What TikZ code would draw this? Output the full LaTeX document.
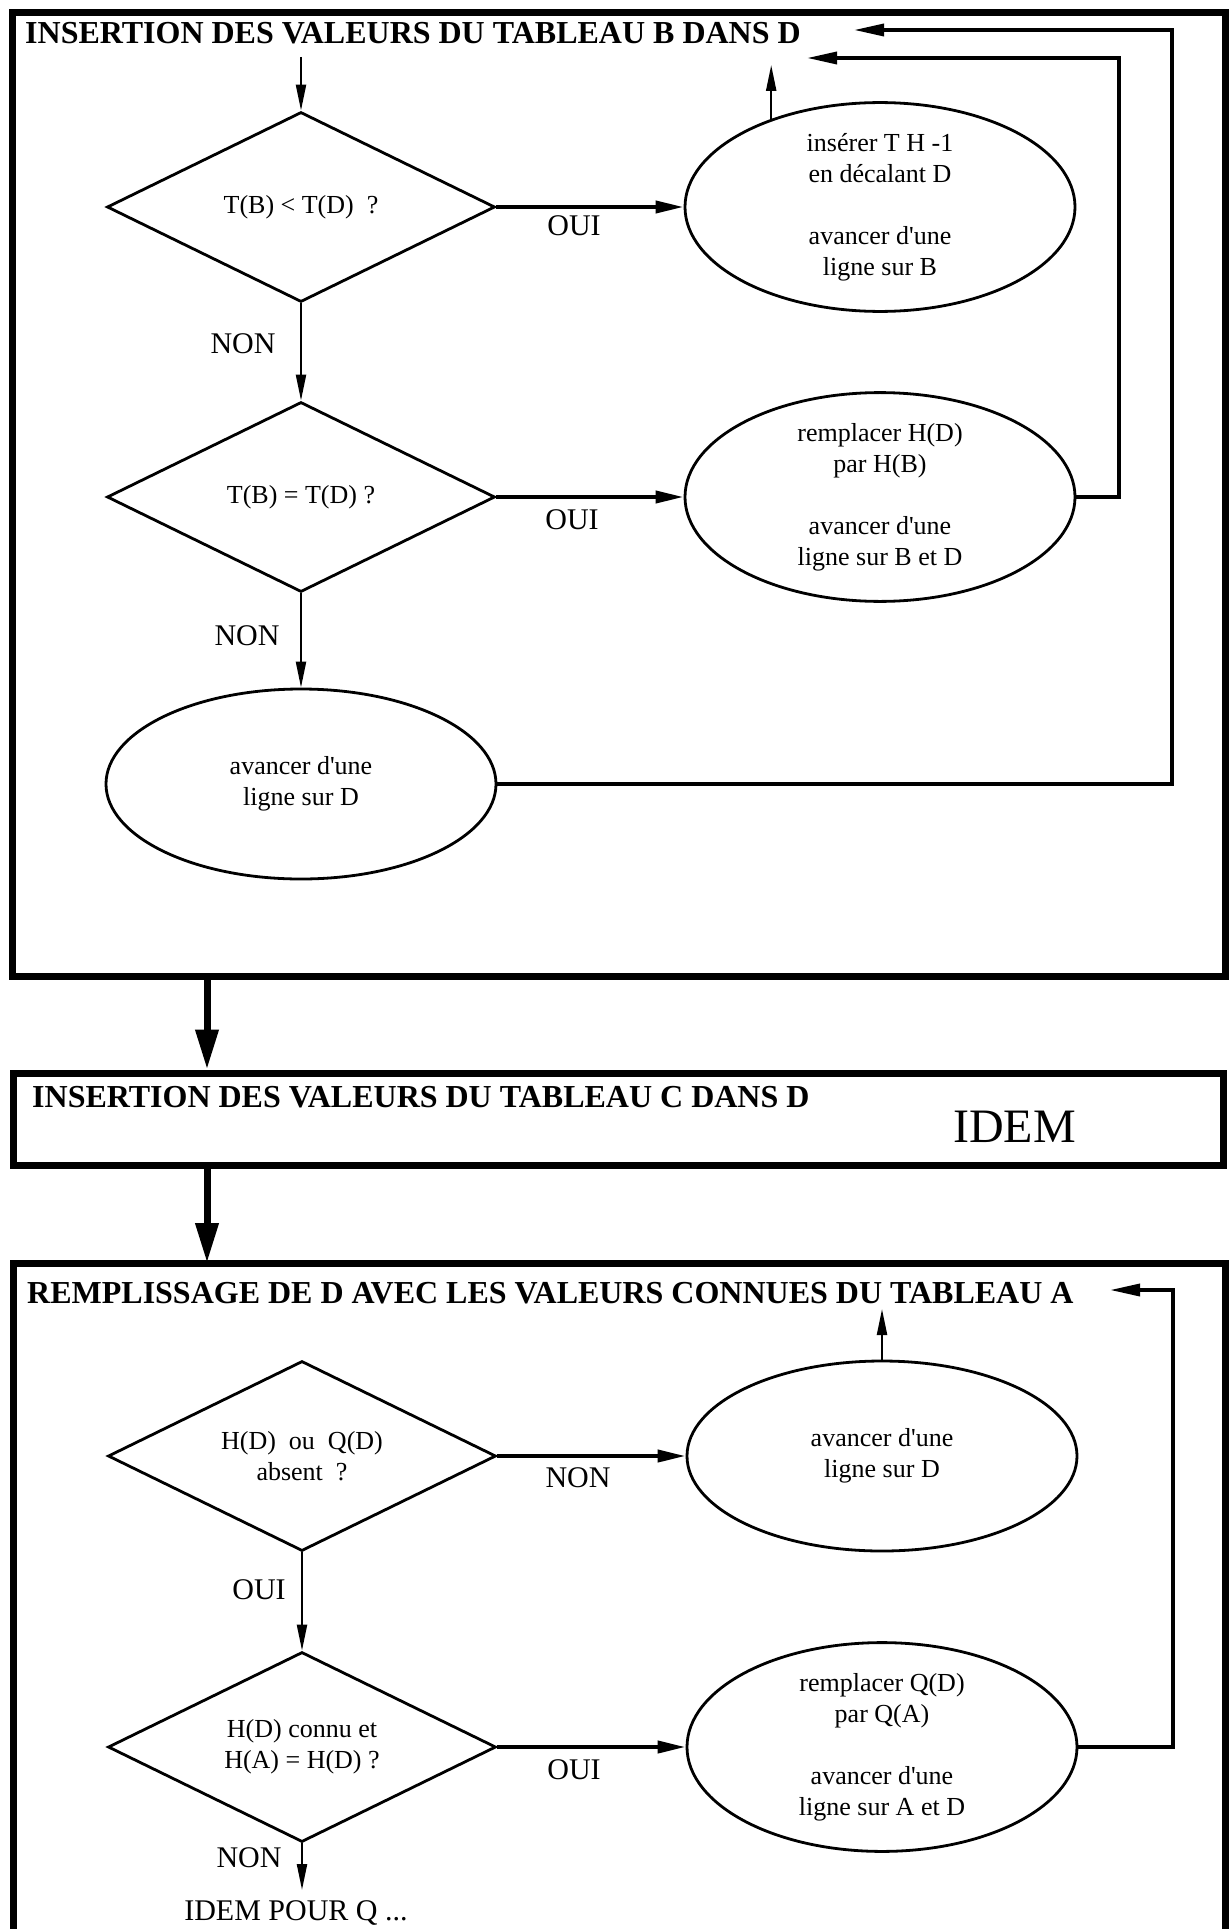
\documentclass[tikz,border=0pt]{standalone}
\usepackage{fontspec}
\setmainfont{Liberation Serif}[Ligatures=TeXOff]
\usetikzlibrary{shapes.geometric,arrows.meta}
\begin{document}
\begin{tikzpicture}[x=1pt,y=-1pt,
  boxn/.style={draw,rectangle,line width=7pt,inner sep=0pt},
  boxline/.style={line width=7pt},
  dia/.style={draw,shape=diamond,aspect=2,minimum width=388pt,minimum height=190pt,inner sep=0pt,line width=2.8pt,font=\fontsize{26}{31}\selectfont,align=center},
  ell/.style={draw,shape=ellipse,minimum width=390pt,minimum height=190pt,inner sep=0pt,line width=2.8pt,font=\fontsize{26}{31}\selectfont,align=center},
  lbl/.style={font=\fontsize{30}{36}\selectfont,inner sep=0pt},
  ttl/.style={font=\bfseries\fontsize{32}{38}\selectfont,inner sep=0pt,anchor=base west},
  arr/.style={line width=2.2pt,-{Triangle[length=26pt,width=10pt]}},
  harr/.style={line width=4pt,-{Triangle[length=28pt,width=12pt]}},
  looparr/.style={line width=3.5pt,-{Triangle[length=30pt,width=12pt]}},
  bigarr/.style={line width=7pt,-{Triangle[length=40pt,width=22pt]}},
]
\useasboundingbox (0,0) rectangle (1229,1929);
\fill[white] (0,0) rectangle (1229,1929);

% ---------- boxes ----------
\node[boxn,minimum width=1213pt,minimum height=963pt] (box1) at (618.5,494.5) {};
\node[boxn,minimum width=1210pt,minimum height=92pt] (box2) at (618,1119) {};
\coordinate (b3bl) at (13,1929);
\coordinate (b3tl) at (13,1263);
\coordinate (b3tr) at (1225,1263);
\coordinate (b3br) at (1225,1929);
\draw[boxline] (b3bl) -- (b3tl) -- (b3tr) -- (b3br);

% ---------- titles ----------
\node[ttl] (t1) at (25,44) {INSERTION DES VALEURS DU TABLEAU B DANS D};
\node[ttl] (t2) at (32,1107) {INSERTION DES VALEURS DU TABLEAU C DANS D};
\node[ttl] (t3) at (27,1303) {REMPLISSAGE DE D AVEC LES VALEURS CONNUES DU TABLEAU A};
\node[inner sep=0pt,anchor=base west,font=\fontsize{48}{56}\selectfont] (idem) at (953,1142) {IDEM};

% ---------- section 1 ----------
\node[dia] (d1) at (301,207) {T(B) < T(D)\ \ ?};
\node[dia] (d2) at (301,497) {T(B) = T(D) ?};
\node[ell] (e1) at (880,207) {ins\'erer T H -1\\en d\'ecalant D\\[31pt]avancer d'une\\ligne sur B};
\node[ell] (e2) at (880,497) {remplacer H(D)\\par H(B)\\[31pt]avancer d'une\\ligne sur B et D};
\node[ell] (e3) at (301,784) {avancer d'une\\ligne sur D};

\coordinate (in1) at (301,57);
\draw[arr] (in1) -- (d1.north);
\draw[harr] (d1.east) -- (e1.west);
\draw[arr] (d1.south) -- (d2.north);
\draw[harr] (d2.east) -- (e2.west);
\draw[arr] (d2.south) -- (e3.north);

\node[lbl] (oui1) at (574,226) {OUI};
\node[lbl] (non1) at (243,344) {NON};
\node[lbl] (oui2) at (572,520) {OUI};
\node[lbl] (non2) at (247,636) {NON};

\coordinate (u1) at (0,65);
\draw[arr] (e1.141) -- (e1.141 |- u1);
\coordinate (L1) at (1119,58);
\coordinate (T1) at (807,58);
\draw[looparr] (e2.east) -| (L1) -- (T1);
\coordinate (L2) at (1172,30);
\coordinate (T2) at (854,30);
\draw[looparr] (e3.east) -| (L2) -- (T2);

% ---------- between boxes ----------
\coordinate (ax) at (207,0);
\draw[bigarr] (ax |- box1.south) -- (ax |- box2.north);
\draw[bigarr] (ax |- box2.south) -- (ax |- b3tl);

% ---------- section 3 ----------
\node[dia] (d3) at (302,1456) {H(D)\ \ ou\ \ Q(D)\\absent\ \ ?};
\node[dia] (d4) at (302,1747) {H(D) connu et\\H(A) = H(D) ?};
\node[ell] (e4) at (882,1456) {avancer d'une\\ligne sur D};
\node[ell] (e5) at (882,1747) {remplacer Q(D)\\par Q(A)\\[31pt]avancer d'une\\ligne sur A et D};

\draw[harr] (d3.east) -- (e4.west);
\draw[arr] (d3.south) -- (d4.north);
\draw[harr] (d4.east) -- (e5.west);

\node[lbl] (non3) at (578,1478) {NON};
\node[lbl] (oui3) at (259,1590) {OUI};
\node[lbl] (oui4) at (574,1770) {OUI};
\node[lbl] (non4) at (249,1858) {NON};
\node[lbl,anchor=base] (idemq) at (296,1920) {IDEM POUR Q ...};

\coordinate (qend) at (302,1890);
\draw[arr] (d4.south) -- (qend);

\coordinate (u2) at (0,1309);
\draw[arr] (e4.north) -- (e4.north |- u2);
\coordinate (L3) at (1173,1290);
\coordinate (T3) at (1110,1290);
\draw[looparr] (e5.east) -| (L3) -- (T3);
\end{tikzpicture}
\end{document}
